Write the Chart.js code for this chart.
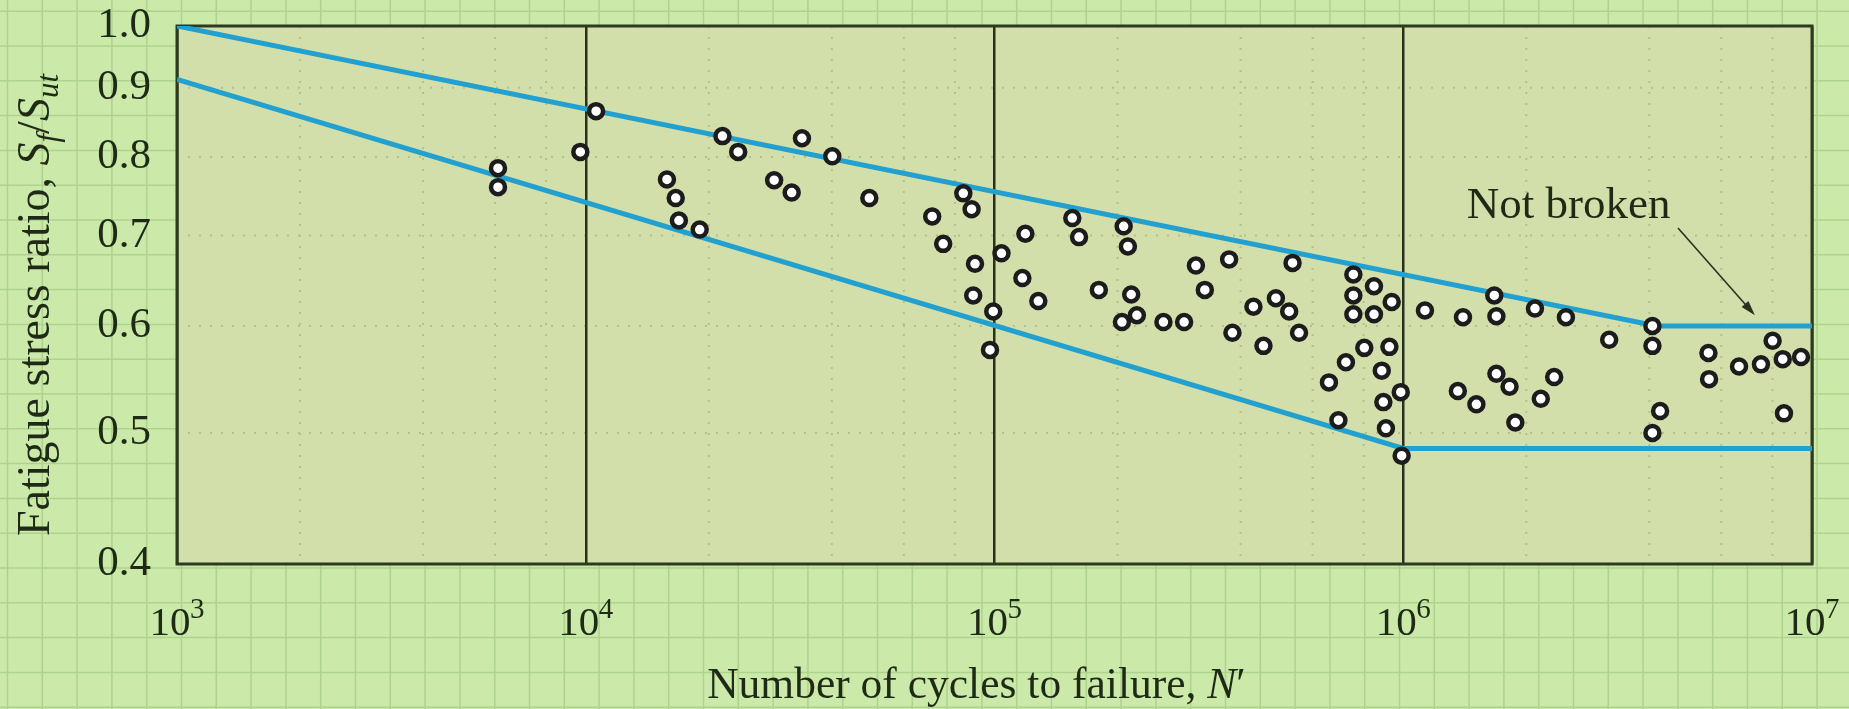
<!DOCTYPE html>
<html>
<head>
<meta charset="utf-8">
<script src="https://cdn.jsdelivr.net/npm/chart.js@4.4.1/dist/chart.umd.min.js"></script>
<style>
  html, body { margin: 0; padding: 0; background: #cbe9a9; }
  #wrap { width: 1849px; height: 709px; position: relative; }
</style>
</head>
<body>
<div id="wrap"><canvas id="chartFatiga"></canvas></div>
<script>
// datos: ciclos hasta la falla y relacion Sf/Sut
const cyclesN = [
  6.1e3, 6.1e3, 9.7e3, 1.06e4, 1.58e4, 1.66e4, 1.69e4, 1.9e4, 2.16e4, 2.36e4,
  2.89e4, 3.19e4, 3.38e4, 4.01e4, 4.94e4, 7.04e4, 7.49e4, 8.39e4, 8.79e4, 8.96e4,
  8.87e4, 9.93e4, 9.75e4, 1.04e5, 1.19e5, 1.17e5, 1.28e5, 1.55e5, 1.61e5, 1.8e5,
  2.07e5, 2.12e5, 2.16e5, 2.05e5, 2.23e5, 3.11e5, 3.75e5, 5.36e5, 3.27e5, 2.59e5,
  2.91e5, 3.82e5, 4.3e5, 4.88e5, 5.26e5, 5.56e5, 4.55e5, 7.55e5, 7.55e5, 7.55e5,
  8.48e5, 8.48e5, 9.37e5, 1.13e6, 8.03e5, 9.25e5, 7.24e5, 8.86e5, 6.58e5, 9.86e5,
  8.94e5, 6.94e5, 9.07e5, 9.91e5, 1.4e6, 1.67e6, 1.69e6, 2.1e6, 2.5e6, 3.19e6,
  4.07e6, 4.07e6, 1.36e6, 1.51e6, 1.69e6, 1.82e6, 1.88e6, 2.17e6, 2.34e6, 4.25e6,
  4.07e6, 5.58e6, 5.6e6, 6.63e6, 7.5e6, 8.01e6, 8.48e6, 9.4e6, 8.54e6
];
const stressRatio = [
  0.785, 0.760, 0.807, 0.865, 0.770, 0.746, 0.718, 0.707, 0.829, 0.807,
  0.769, 0.753, 0.826, 0.801, 0.746, 0.723, 0.690, 0.752, 0.732, 0.667,
  0.632, 0.615, 0.576, 0.679, 0.702, 0.651, 0.626, 0.721, 0.698, 0.638,
  0.711, 0.687, 0.633, 0.604, 0.611, 0.665, 0.672, 0.668, 0.638, 0.604,
  0.604, 0.593, 0.620, 0.629, 0.615, 0.593, 0.580, 0.655, 0.632, 0.612,
  0.642, 0.612, 0.625, 0.616, 0.578, 0.579, 0.564, 0.556, 0.545, 0.536,
  0.527, 0.511, 0.504, 0.481, 0.609, 0.632, 0.610, 0.618, 0.609, 0.586,
  0.600, 0.580, 0.537, 0.525, 0.553, 0.541, 0.509, 0.530, 0.550, 0.519,
  0.500, 0.573, 0.548, 0.560, 0.562, 0.585, 0.567, 0.569, 0.517
];

// bandas superior e inferior
const upperN = [1e3, 4.17e6, 1e7];
const upperS = [1.0, 0.6, 0.6];
const lowerN = [1e3, 1e6, 1e7];
const lowerS = [0.913, 0.487, 0.487];

// ejes
const xDecades = [1e3, 1e4, 1e5, 1e6, 1e7];
const xMinorSteps = [2, 4, 6, 8];
const yTicks = [0.4, 0.5, 0.6, 0.7, 0.8, 0.9, 1.0];
const yDotted = [0.5, 0.6, 0.7, 0.8, 0.9];

// anotacion "Not broken"
const noteText = 'Not broken';
const notePos = {x: 1.43e6, y: 0.721};
const arrowFrom = {x: 4.7e6, y: 0.709};
const arrowTo = {x: 7.25e6, y: 0.611};

const serif = '"Liberation Serif", "Times New Roman", serif';
const ink = '#1f2a16';

function toPoints(xs, ys){
    return xs.map((v, i) => ({x: v, y: ys[i]}));
}

// texto con partes en cursiva / subindice
function drawRuns(ctx, runs, x, y){
    let w = 0;
    runs.forEach(r => { ctx.font = r.font; r.w = ctx.measureText(r.t).width; w += r.w; });
    let cx = x - w / 2;
    runs.forEach(r => {
        ctx.font = r.font;
        ctx.fillText(r.t, cx, y + (r.dy || 0));
        cx += r.w;
    });
}

const paperPlugin = {
    id: 'paper',
    beforeDraw(chart){
        const ctx = chart.ctx;
        const a = chart.chartArea;
        const W = chart.width, H = chart.height;
        ctx.save();
        ctx.fillStyle = '#cbe9a9';
        ctx.fillRect(0, 0, W, H);
        // papel cuadriculado
        ctx.strokeStyle = 'rgba(125,175,95,0.38)';
        ctx.lineWidth = 1.5;
        ctx.beginPath();
        for(let x = 7.5; x < W; x += 34.8){ ctx.moveTo(x, 0); ctx.lineTo(x, H); }
        for(let y = 11.2; y < H; y += 34.8){ ctx.moveTo(0, y); ctx.lineTo(W, y); }
        ctx.stroke();
        // zona del grafico
        ctx.fillStyle = '#d3dfaa';
        ctx.fillRect(a.left, a.top, a.right - a.left, a.bottom - a.top);

        // lineas punteadas
        const xs = chart.scales.x, ys = chart.scales.y;
        ctx.strokeStyle = 'rgba(175,190,135,0.9)';
        ctx.lineWidth = 2;
        ctx.setLineDash([2, 9]);
        ctx.beginPath();
        yDotted.forEach(v => {
            const py = ys.getPixelForValue(v);
            ctx.moveTo(a.left, py); ctx.lineTo(a.right, py);
        });
        xDecades.slice(0, -1).forEach(d => {
            xMinorSteps.forEach(m => {
                const px = xs.getPixelForValue(d * m);
                ctx.moveTo(px, a.top); ctx.lineTo(px, a.bottom);
            });
        });
        ctx.stroke();
        ctx.restore();
    },
    beforeDatasetsDraw(chart){
        const ctx = chart.ctx;
        const a = chart.chartArea;
        ctx.save();
        ctx.strokeStyle = '#2c3b20';
        ctx.lineWidth = 3;
        ctx.strokeRect(a.left, a.top, a.right - a.left, a.bottom - a.top);
        ctx.restore();
    },
    afterDraw(chart){
        const ctx = chart.ctx;
        const a = chart.chartArea;
        const xs = chart.scales.x, ys = chart.scales.y;
        ctx.save();
        ctx.fillStyle = ink;

        // etiquetas 10^n
        xDecades.forEach(v => {
            const px = xs.getPixelForValue(v);
            const exp = Math.round(Math.log10(v));
            ctx.textAlign = 'center';
            ctx.font = '41px ' + serif;
            ctx.fillText('10', px - 7, a.bottom + 71);
            ctx.textAlign = 'left';
            ctx.font = '29px ' + serif;
            ctx.fillText(String(exp), px + 13, a.bottom + 54);
        });

        // titulo eje x
        ctx.textAlign = 'left';
        ctx.textBaseline = 'alphabetic';
        drawRuns(ctx, [
            {t: 'Number of cycles to failure, ', font: '43.5px ' + serif},
            {t: 'N', font: 'italic 43.5px ' + serif},
            {t: '\u2032', font: '43.5px ' + serif}
        ], (a.left + a.right) / 2 - 18, a.bottom + 134);

        // titulo eje y
        ctx.save();
        ctx.translate(a.left - 128, (a.top + a.bottom) / 2 + 10);
        ctx.rotate(-Math.PI / 2);
        drawRuns(ctx, [
            {t: 'Fatigue stress ratio, ', font: '46px ' + serif},
            {t: 'S', font: 'italic 46px ' + serif},
            {t: 'f', font: 'italic 31px ' + serif, dy: 9},
            {t: '/', font: '46px ' + serif},
            {t: 'S', font: 'italic 46px ' + serif},
            {t: 'ut', font: 'italic 31px ' + serif, dy: 9}
        ], 0, 0);
        ctx.restore();

        // anotacion y flecha
        ctx.font = '45px ' + serif;
        ctx.textAlign = 'left';
        ctx.fillText(noteText, xs.getPixelForValue(notePos.x), ys.getPixelForValue(notePos.y));

        const x1 = xs.getPixelForValue(arrowFrom.x), y1 = ys.getPixelForValue(arrowFrom.y);
        const x2 = xs.getPixelForValue(arrowTo.x), y2 = ys.getPixelForValue(arrowTo.y);
        const ang = Math.atan2(y2 - y1, x2 - x1);
        ctx.strokeStyle = '#2a3123';
        ctx.lineWidth = 1.6;
        ctx.beginPath();
        ctx.moveTo(x1, y1);
        ctx.lineTo(x2 - 10 * Math.cos(ang), y2 - 10 * Math.sin(ang));
        ctx.stroke();
        ctx.beginPath();
        ctx.moveTo(x2, y2);
        ctx.lineTo(x2 - 15 * Math.cos(ang) + 4.5 * Math.sin(ang), y2 - 15 * Math.sin(ang) - 4.5 * Math.cos(ang));
        ctx.lineTo(x2 - 15 * Math.cos(ang) - 4.5 * Math.sin(ang), y2 - 15 * Math.sin(ang) + 4.5 * Math.cos(ang));
        ctx.closePath();
        ctx.fillStyle = '#2a3123';
        ctx.fill();
        ctx.restore();
    }
};

const config = {
    type: 'scatter',
    data: {
        datasets: [
            {
                label: 'Ensayos',
                data: toPoints(cyclesN, stressRatio),
                pointRadius: 7,
                pointBorderWidth: 4.5,
                pointBackgroundColor: '#ffffff',
                pointBorderColor: '#1c1c1c',
                showLine: false
            },
            {
                label: 'Banda superior',
                data: toPoints(upperN, upperS),
                showLine: true,
                borderColor: '#22a0cf',
                borderWidth: 5,
                pointRadius: 0,
                tension: 0
            },
            {
                label: 'Banda inferior',
                data: toPoints(lowerN, lowerS),
                showLine: true,
                borderColor: '#22a0cf',
                borderWidth: 5,
                pointRadius: 0,
                tension: 0
            }
        ]
    },
    options: {
        responsive: true,
        maintainAspectRatio: false,
        animation: false,
        layout: {padding: {left: 0, top: 26, right: 37, bottom: 0}},
        plugins: {
            legend: {display: false},
            tooltip: {enabled: false}
        },
        scales: {
            x: {
                type: 'logarithmic',
                min: 1e3,
                max: 1e7,
                afterBuildTicks: axis => { axis.ticks = xDecades.map(v => ({value: v, major: true})); },
                afterFit: axis => {
                    axis.height = 145;
                    axis.paddingLeft = 0; axis.paddingRight = 0;
                },
                ticks: {display: false},
                grid: {color: '#27321d', lineWidth: 2.5, drawTicks: false},
                border: {display: false}
            },
            y: {
                type: 'logarithmic',
                min: 0.4,
                max: 1.0,
                afterBuildTicks: axis => { axis.ticks = yTicks.map(v => ({value: v, major: true})); },
                afterFit: axis => {
                    axis.width = 177;
                    // sin margen extra por las etiquetas de los extremos
                    axis.paddingTop = 0; axis.paddingBottom = 0;
                },
                ticks: {
                    autoSkip: false,
                    padding: 26,
                    color: ink,
                    font: {family: serif, size: 43},
                    callback: v => Number(v).toFixed(1)
                },
                grid: {display: false, drawTicks: false},
                border: {display: false}
            }
        }
    },
    plugins: [paperPlugin]
};

let chartFatiga = new Chart(document.getElementById('chartFatiga'), config);
</script>
</body>
</html>
